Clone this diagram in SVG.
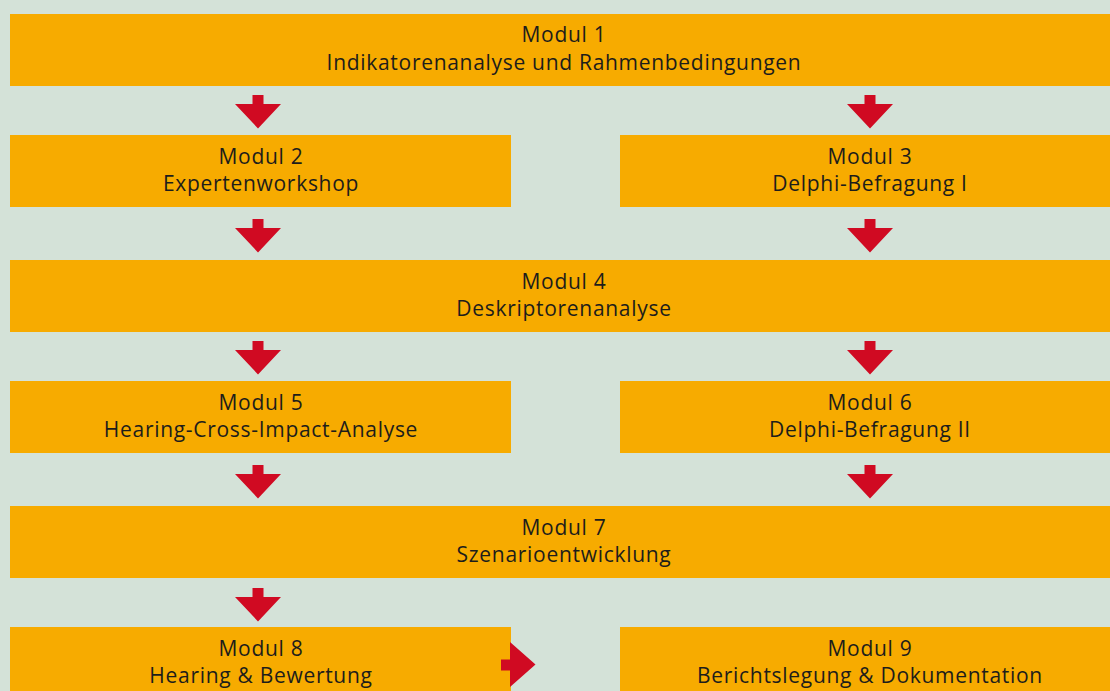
<svg xmlns="http://www.w3.org/2000/svg" width="1110" height="691" viewBox="0 0 1110 691">
  <style>
    .box { fill: #f7ab00; }
    .arrow { fill: #d00a22; }
    .lbl { font-family: "Open Sans", "Liberation Sans", sans-serif; font-size: 21px; letter-spacing: 0.7px; fill: #1d1d1b; text-anchor: middle; }
  </style>
  <defs>
    <path id="down" class="arrow" d="M-5.5,0 H5.5 V9 H23 L0,33.5 L-23,9 H-5.5 Z"/>
  </defs>
  <rect width="1110" height="691" fill="#d4e2d8"/>

  <g id="modul1">
    <rect class="box" x="10" y="14" width="1110" height="72"/>
    <text class="lbl" x="564" y="42">Modul 1</text>
    <text class="lbl" x="564" y="69.5">Indikatorenanalyse und Rahmenbedingungen</text>
  </g>
  <g id="modul2">
    <rect class="box" x="10" y="135" width="501" height="72"/>
    <text class="lbl" x="261" y="163.5">Modul 2</text>
    <text class="lbl" x="261" y="191">Expertenworkshop</text>
  </g>
  <g id="modul3">
    <rect class="box" x="620" y="135" width="500" height="72"/>
    <text class="lbl" x="870" y="163.5">Modul 3</text>
    <text class="lbl" x="870" y="191">Delphi-Befragung I</text>
  </g>
  <g id="modul4">
    <rect class="box" x="10" y="260" width="1110" height="72"/>
    <text class="lbl" x="564" y="288.5">Modul 4</text>
    <text class="lbl" x="564" y="316">Deskriptorenanalyse</text>
  </g>
  <g id="modul5">
    <rect class="box" x="10" y="381" width="501" height="72"/>
    <text class="lbl" x="261" y="409.5">Modul 5</text>
    <text class="lbl" x="261" y="437">Hearing-Cross-Impact-Analyse</text>
  </g>
  <g id="modul6">
    <rect class="box" x="620" y="381" width="500" height="72"/>
    <text class="lbl" x="870" y="409.5">Modul 6</text>
    <text class="lbl" x="870" y="437">Delphi-Befragung II</text>
  </g>
  <g id="modul7">
    <rect class="box" x="10" y="506" width="1110" height="72"/>
    <text class="lbl" x="564" y="534.5">Modul 7</text>
    <text class="lbl" x="564" y="562">Szenarioentwicklung</text>
  </g>
  <g id="modul8">
    <rect class="box" x="10" y="627" width="501" height="72"/>
    <text class="lbl" x="261" y="655.5">Modul 8</text>
    <text class="lbl" x="261" y="683">Hearing &amp; Bewertung</text>
  </g>
  <g id="modul9">
    <rect class="box" x="620" y="627" width="500" height="72"/>
    <text class="lbl" x="870" y="655.5">Modul 9</text>
    <text class="lbl" x="870" y="683">Berichtslegung &amp; Dokumentation</text>
  </g>

  <g id="connectors">
    <use href="#down" x="258" y="95"/>
    <use href="#down" x="870" y="95"/>
    <use href="#down" x="258" y="219"/>
    <use href="#down" x="870" y="219"/>
    <use href="#down" x="258" y="341"/>
    <use href="#down" x="870" y="341"/>
    <use href="#down" x="258" y="465"/>
    <use href="#down" x="870" y="465"/>
    <use href="#down" x="258" y="588"/>
    <path class="arrow" d="M501,659.5 V670.5 H510 V687 L535.5,664.5 L510,642 V659.5 Z"/>
  </g>
</svg>
